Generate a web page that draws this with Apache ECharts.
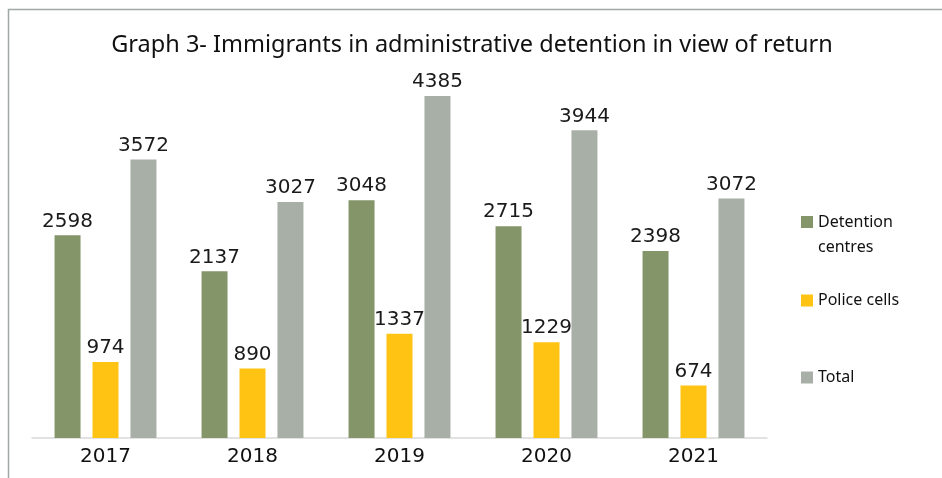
<!DOCTYPE html>
<html><head><meta charset="utf-8">
<script src="https://cdn.jsdelivr.net/npm/echarts@6/dist/echarts.min.js"></script>
<style>html,body{margin:0;padding:0;background:#fff}#c{width:942px;height:478px}</style>
</head><body><div id="c"></div>
<script>
const categories = ['2017','2018','2019','2020','2021'];
const detentionCentres = [2598, 2137, 3048, 2715, 2398];
const policeCells = [974, 890, 1337, 1229, 674];
const total = [3572, 3027, 4385, 3944, 3072];
const seriesNames = ['Detention centres','Police cells','Total'];
const colors = ['#84956A','#FFC314','#A8AFA6'];

const chart = echarts.init(document.getElementById('c'));
const lbl = {show:true, position:'top', distance:4, color:'#1a1a1a', fontSize:20, fontFamily:'DejaVu Sans'};
const legTxt = {fontFamily:'Noto Sans', fontSize:16, color:'#111', lineHeight:25};
function leg(name, top, extra){
  return Object.assign({orient:'vertical', left:796, top:top, itemWidth:12, itemHeight:12, itemGap:0, icon:'rect',
    data:[name], textStyle:Object.assign({}, legTxt)}, extra||{});
}
chart.setOption({
  animation:false,
  graphic:[{type:'rect', shape:{x:8.5,y:9.5,width:1000,height:1000}, style:{fill:'none', stroke:'#9FA9A7', lineWidth:1.5}}],
  title:{text:'Graph 3- Immigrants in administrative detention in view of return', left:467, top:28, textAlign:'center',
    textStyle:{fontFamily:'Noto Sans', fontWeight:'normal', fontSize:23.5, color:'#111'}},
  legend:[
    leg(seriesNames[0], 179.5, {formatter:' \nDetention\ncentres'}),
    leg(seriesNames[1], 283),
    leg(seriesNames[2], 360)
  ],
  grid:{left:32, right:175, top:48, bottom:40},
  xAxis:{type:'category', data:categories, axisTick:{show:false},
    axisLine:{lineStyle:{color:'#D9D9D9', width:1.5}},
    axisLabel:{fontFamily:'DejaVu Sans', fontSize:20, color:'#111', margin:9}},
  yAxis:{type:'value', min:0, max:5000, show:false, splitLine:{show:false}},
  series:[
    {name:seriesNames[0], type:'bar', data:detentionCentres, itemStyle:{color:colors[0]}, barWidth:26, barGap:'46%', label:lbl},
    {name:seriesNames[1], type:'bar', data:policeCells, itemStyle:{color:colors[1]}, barWidth:26, barGap:'46%', label:lbl},
    {name:seriesNames[2], type:'bar', data:total, itemStyle:{color:colors[2]}, barWidth:26, barGap:'46%', label:lbl}
  ]
});
</script></body></html>
